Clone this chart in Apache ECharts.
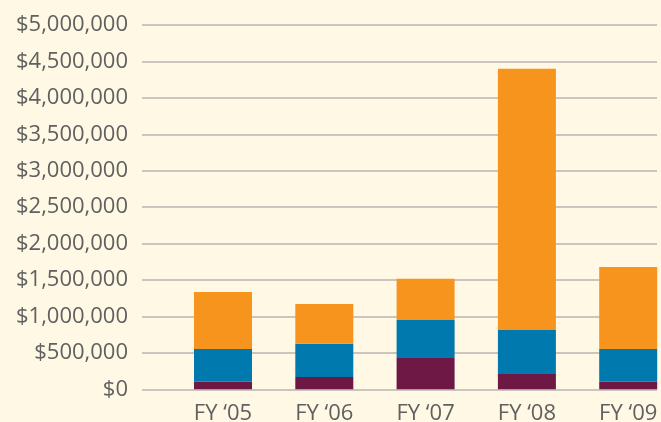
<!DOCTYPE html>
<html>
<head>
<meta charset="utf-8">
<script src="https://cdn.jsdelivr.net/npm/echarts@6/dist/echarts.min.js"></script>
<style>
html,body{margin:0;padding:0;background:#FEF8E5;}
#c{width:661px;height:422px;}
</style>
</head>
<body>
<div id="c"></div>
<script>
var categories = ['FY \u201805', 'FY \u201806', 'FY \u201807', 'FY \u201808', 'FY \u201809'];
var purpleValues = [105000, 170000, 430000, 210000, 105000];
var blueValues = [448000, 456000, 522000, 605000, 448000];
var orangeValues = [784000, 546000, 566000, 3585000, 1127000];
var yTicks = [0, 500000, 1000000, 1500000, 2000000, 2500000, 3000000, 3500000, 4000000, 4500000, 5000000];

var textColor = '#606060';
var fontFamily = '"Open Sans", "Noto Sans", sans-serif';

var chart = echarts.init(document.getElementById('c'));
chart.setOption({
  backgroundColor: '#FEF8E5',
  animation: false,
  grid: [
    {left: 172.35, width: 506.5, top: 25, bottom: 32.7, containLabel: false, outerBoundsMode: 'none'},
    {left: 142, right: 4, top: 25, bottom: 32.7, containLabel: false, outerBoundsMode: 'none'}
  ],
  xAxis: [
    {
      type: 'category', gridIndex: 0, data: categories,
      axisLine: {show: false}, axisTick: {show: false},
      axisLabel: {color: textColor, fontSize: 22, fontFamily: fontFamily, margin: 13}
    },
    {
      type: 'category', gridIndex: 1, data: categories, show: false
    }
  ],
  yAxis: [
    {
      type: 'value', gridIndex: 0, min: 0, max: yTicks[yTicks.length - 1], interval: yTicks[1] - yTicks[0],
      axisLine: {show: false}, axisTick: {show: false}, axisLabel: {show: false}, splitLine: {show: false}
    },
    {
      type: 'value', gridIndex: 1, min: 0, max: yTicks[yTicks.length - 1], interval: yTicks[1] - yTicks[0],
      axisLine: {show: false}, axisTick: {show: false},
      axisLabel: {
        color: textColor, fontSize: 22, fontFamily: fontFamily, margin: 14,
        formatter: function (v) { return '$' + v.toLocaleString('en-US'); }
      },
      splitLine: {show: true, lineStyle: {color: '#b8b6b0', width: 1.5}}
    }
  ],
  series: [
    {name: 'A', type: 'bar', stack: 't', xAxisIndex: 0, yAxisIndex: 0, barWidth: 58, data: purpleValues, itemStyle: {color: '#6E1846'}},
    {name: 'B', type: 'bar', stack: 't', xAxisIndex: 0, yAxisIndex: 0, barWidth: 58, data: blueValues, itemStyle: {color: '#0079AE'}},
    {name: 'C', type: 'bar', stack: 't', xAxisIndex: 0, yAxisIndex: 0, barWidth: 58, data: orangeValues, itemStyle: {color: '#F7941E'}}
  ]
});
</script>
</body>
</html>
